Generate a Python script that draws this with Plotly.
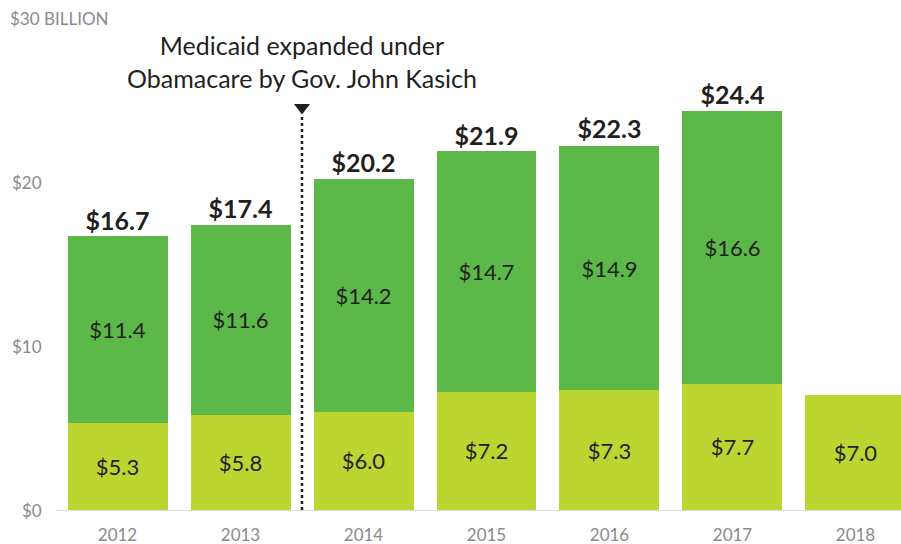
import plotly.graph_objects as go

# Data ($ billions)
years = ['2012', '2013', '2014', '2015', '2016', '2017', '2018']
state_share = [5.3, 5.8, 6.0, 7.2, 7.3, 7.7, 7.0]
federal_share = [11.4, 11.6, 14.2, 14.7, 14.9, 16.6, None]
totals = [16.7, 17.4, 20.2, 21.9, 22.3, 24.4]
y_ticks = [0, 10, 20, 30]
y_tick_text = ['$0', '$10', '$20', '$30 BILLION']

FONT = 'Lato'
LIGHT = '#bcd531'
DARK = '#5cb848'
INK = '#231f20'
GRAY = '#8a8a8a'

pos = list(range(len(years)))

fig = go.Figure()

fig.add_trace(go.Bar(
    x=pos, y=state_share,
    marker=dict(color=LIGHT, line=dict(width=0)),
    text=[f'${v:.1f}' for v in state_share],
    textposition='inside', insidetextanchor='middle',
    textfont=dict(family=FONT, size=22, color=INK),
    hoverinfo='skip'
))

fig.add_trace(go.Bar(
    x=pos, y=federal_share,
    marker=dict(color=DARK, line=dict(width=0)),
    text=[f'${v:.1f}' if v is not None else '' for v in federal_share],
    textposition='inside', insidetextanchor='middle',
    textfont=dict(family=FONT, size=22, color=INK),
    hoverinfo='skip'
))

# Total labels above bars
fig.add_trace(go.Scatter(
    x=pos[:len(totals)], y=totals,
    mode='text',
    text=[f'<b>${v:.1f}</b>' for v in totals],
    textposition='top center',
    textfont=dict(family=FONT, size=25, color=INK),
    hoverinfo='skip'
))

# Expansion marker between 2013 and 2014
fig.add_trace(go.Scatter(
    x=[1.5, 1.5], y=[0, 24.1],
    mode='lines',
    line=dict(color=INK, width=2.5, dash='dot'),
    hoverinfo='skip'
))
fig.add_trace(go.Scatter(
    x=[1.5], y=[24.55],
    mode='markers',
    marker=dict(symbol='triangle-down', size=14, color=INK),
    hoverinfo='skip'
))

fig.add_annotation(
    x=1.5, y=25.3, xref='x', yref='y',
    text='Medicaid expanded under<br>Obamacare by Gov. John Kasich',
    showarrow=False, yanchor='bottom', xanchor='center',
    font=dict(family=FONT, size=25, color=INK)
)

# Y tick labels
for v, t in zip(y_ticks, y_tick_text):
    if v == 30:
        fig.add_annotation(x=-0.5, y=v, xref='x', yref='y', text=t,
                           showarrow=False, xanchor='left', xshift=-48,
                           font=dict(family=FONT, size=17, color=GRAY))
    else:
        fig.add_annotation(x=-0.5, y=v, xref='x', yref='y', text=t,
                           showarrow=False, xanchor='right', xshift=-12,
                           font=dict(family=FONT, size=17, color=GRAY))

fig.update_layout(
    barmode='stack',
    bargap=0.187,
    showlegend=False,
    plot_bgcolor='white',
    paper_bgcolor='white',
    width=901, height=544,
    margin=dict(l=56, r=0, t=18, b=34),
    xaxis=dict(
        range=[-0.5, 6.37],
        tickvals=pos, ticktext=years,
        showgrid=False, zeroline=False,
        showline=True, linecolor='#dddddd', linewidth=1,
        ticks='', ticklabelstandoff=10,
        tickfont=dict(family=FONT, size=17, color=GRAY)
    ),
    yaxis=dict(
        range=[0, 30],
        showgrid=False, zeroline=False,
        showticklabels=False
    )
)

# drop the default page margin so the figure fills the window
fig.write_html('out.html',
               config={'displayModeBar': False},
               post_script="document.body.style.margin='0';"
                           "document.body.style.overflow='hidden';")
